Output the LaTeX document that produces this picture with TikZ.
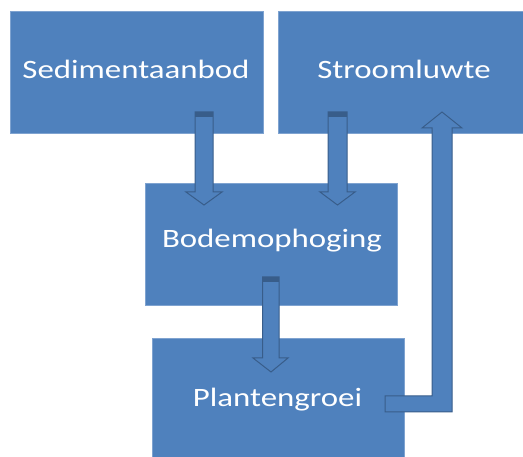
\documentclass[tikz,border=0pt]{standalone}
\usepackage{fontspec}
\setmainfont{Carlito}[FakeStretch=1.24]
\definecolor{boxblue}{HTML}{4F81BD}
\definecolor{arrowline}{HTML}{385D8A}
\definecolor{boxedge}{HTML}{7FA3D0}
\begin{document}
\begin{tikzpicture}[x=1pt,y=-1pt,
  box/.style={fill=boxblue,draw=boxedge,line width=0.6pt,inner sep=0pt},
  lbl/.style={text=white,anchor=base,inner sep=0pt,font=\fontsize{26.5}{30}\selectfont},
  blockarrow/.style={fill=boxblue,draw=arrowline,line width=1pt,line join=miter},
  arrowcap/.style={fill=arrowline,draw=none}]
\useasboundingbox (0,0) rectangle (523,457);
\clip (0,0) rectangle (523,457);
% boxes
\node[box,minimum width=253,minimum height=122] (sed) at (136.5,72) {};
\node[box,minimum width=247,minimum height=122] (stroom) at (401.5,72) {};
\node[box,minimum width=252,minimum height=122] (bodem) at (271,244) {};
\node[box,minimum width=252,minimum height=124] (plant) at (278,400) {};
% labels
\node[lbl] (tsed) at (136,79) {Sedimentaanbod};
\node[lbl] (tstroom) at (404,79) {Stroomluwte};
\node[lbl] (tbodem) at (272,248) {Bodemophoging};
\node[lbl] (tplant) at (277.5,407) {Plantengroei};
% down arrows
\draw[blockarrow] (195,112) -- (213,112) -- (213,192) -- (222,192) -- (204,205) -- (186,192) -- (195,192) -- cycle;
\fill[arrowcap] (195,112) rectangle (213,117);
\draw[blockarrow] (328,112) -- (347,112) -- (347,192) -- (355,192) -- (337.5,205) -- (320,192) -- (328,192) -- cycle;
\fill[arrowcap] (328,112) rectangle (347,117);
\draw[blockarrow] (262.5,277) -- (279,277) -- (279,358) -- (288,358) -- (271,372) -- (253,358) -- (262.5,358) -- cycle;
\fill[arrowcap] (262.5,277) rectangle (279,282);
% bent up arrow
\draw[blockarrow] (385,396) -- (432,396) -- (432,128) -- (422,128) -- (442,112) -- (462,128) -- (452,128) -- (452,412) -- (385,412) -- cycle;
\end{tikzpicture}
\end{document}
